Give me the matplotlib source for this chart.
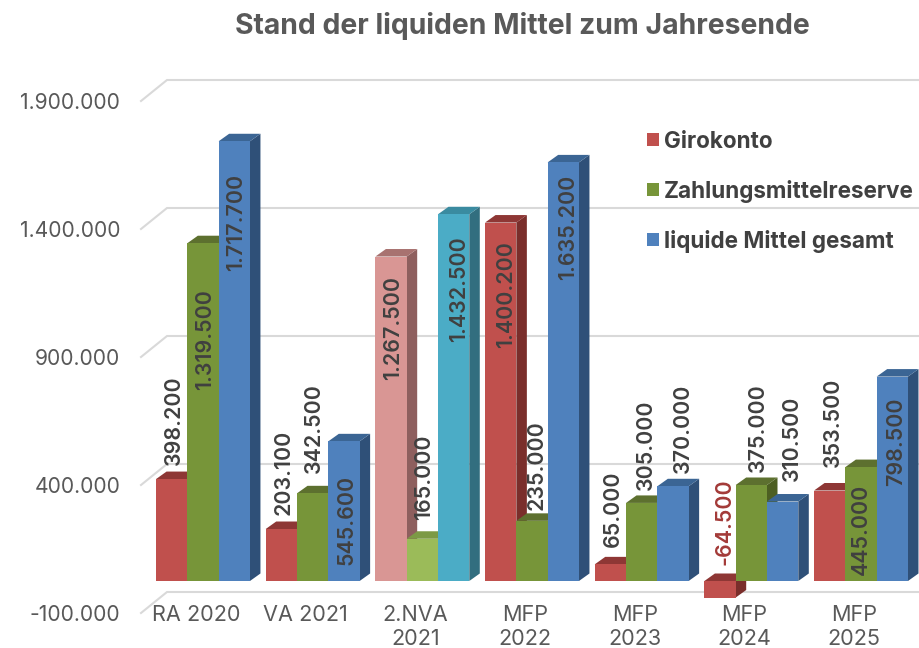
import matplotlib
matplotlib.use("Agg")
import matplotlib.pyplot as plt
from matplotlib.patches import Patch
from matplotlib.transforms import Affine2D

plt.rcParams['font.family'] = ['Inter', 'DejaVu Sans']

categories = ["RA 2020", "VA 2021", "2.NVA\n2021", "MFP\n2022", "MFP\n2023", "MFP\n2024", "MFP\n2025"]
girokonto = [398200, 203100, 1267500, 1400200, 65000, -64500, 353500]
zahlungsmittelreserve = [1319500, 342500, 165000, 235000, 305000, 375000, 445000]
liquide_mittel = [1717700, 545600, 1432500, 1635200, 370000, 310500, 798500]
series_names = ["Girokonto", "Zahlungsmittelreserve", "liquide Mittel gesamt"]
ytick_values = [-100000, 400000, 900000, 1400000, 1900000]
ytick_labels = ["-100.000", "400.000", "900.000", "1.400.000", "1.900.000"]
title = "Stand der liquiden Mittel zum Jahresende"

W, H = 919, 648
AX_L, AX_R, AX_T, AX_B = 141, 919, 101, 613
PX_PER_CAT = 109.67
X0_PX = 196

# colours: front, top, side
RED = ("#C0504D", "#8E3735", "#7A2E2B")
GREEN = ("#779539", "#5D702F", "#4D5F22")
BLUE = ("#4F81BD", "#3B6594", "#2F5078")
PINK = ("#D99694", "#A87270", "#8E5F5E")
LGREEN = ("#9BBB59", "#7C9A45", "#64803A")
TEAL = ("#4BACC6", "#3A8BA0", "#326E7F")
styles = [[RED] * 7, [GREEN] * 7, [BLUE] * 7]
styles[0][2], styles[1][2], styles[2][2] = PINK, LGREEN, TEAL

fig = plt.figure(figsize=(W / 100, H / 100), dpi=100)
ax = fig.add_axes([AX_L / W, 1 - AX_B / H, (AX_R - AX_L) / W, (AX_B - AX_T) / H])
ax.set_xlim((AX_L - X0_PX) / PX_PER_CAT, (AX_R - X0_PX) / PX_PER_CAT)
ax.set_ylim(-100000, 1900000)
ax.patch.set_alpha(0)
for s in ax.spines.values():
    s.set_visible(False)

px_x = 1 / PX_PER_CAT
px_y = 2000000 / (AX_B - AX_T)

# back wall gridlines with the diagonal to the front plane
wall_dx, wall_dy = 26 * px_x, 21 * px_y
x_left = ax.get_xlim()[0]
x_right = ax.get_xlim()[1]
for v in ytick_values:
    ax.plot([x_left, x_left + wall_dx, x_right], [v, v + wall_dy, v + wall_dy],
            color="#D9D9D9", lw=1.5, clip_on=False, zorder=1, solid_joinstyle="miter")

# bars sit in the middle of the floor depth
bar_tf = ax.transData + Affine2D().translate(7, 6.4)
bar_w = 31.3 * px_x
depth_x, depth_y = 10.5 * px_x, 7.5 * px_y

series = [girokonto, zahlungsmittelreserve, liquide_mittel]
z = 2
for i in range(len(categories)):
    for k, vals in enumerate(series):
        v = vals[i]
        front, top_c, side_c = styles[k][i]
        xc = i + (k - 1) * bar_w
        xl, xr = xc - bar_w / 2, xc + bar_w / 2
        hi, lo = max(v, 0), min(v, 0)
        ax.fill([xr, xr + depth_x, xr + depth_x, xr],
                [lo, lo + depth_y, hi + depth_y, hi],
                color=side_c, lw=0, transform=bar_tf, zorder=z, clip_on=False)
        ax.fill([xl, xl + depth_x, xr + depth_x, xr],
                [hi, hi + depth_y, hi + depth_y, hi],
                color=top_c, lw=0, transform=bar_tf, zorder=z, clip_on=False)
        ax.bar(xc, v, width=bar_w, color=front, lw=0, transform=bar_tf, zorder=z + 0.5, clip_on=False)
        z += 1

ax.set_xticks(range(len(categories)), categories)
ax.set_yticks(ytick_values, ytick_labels)
ax.tick_params(axis="y", length=0, pad=15, labelsize=15.2, labelcolor="#595959")
ax.tick_params(axis="x", length=0, pad=-5.5, labelsize=15.6, labelcolor="#595959")
for t in ax.get_xticklabels():
    t.set_linespacing(1.22)

# data labels (pixel centres as laid out in the chart)
label_x = [[174, 205, 236], [284, 314, 346], [393, 424, 459], [506, 537, 568],
           [613, 646, 683], [724, 758, 792], [833, 861, 896]]
label_y = [[420, 340, 222], [472, 428, 520], [328, 477, 289], [295, 465, 227],
           [509, 445, 428], [522, 428, 438], [422, 529, 442]]
for i in range(len(categories)):
    for k, vals in enumerate(series):
        v = vals[i]
        txt = f"{v:,}".replace(",", ".")
        fig.text(label_x[i][k] / W, 1 - label_y[i][k] / H, txt, rotation=90,
                 ha="center", va="center", fontsize=15.4, fontweight=600,
                 color="#A33A38" if v < 0 else "#404040", zorder=50)

handles = [Patch(facecolor=c[0], lw=0) for c in (RED, GREEN, BLUE)]
ax.legend(handles, series_names, loc="upper left", frameon=False,
          bbox_to_anchor=((641 - 141) / (AX_R - AX_L), (AX_B - 124.5) / (AX_B - AX_T)),
          borderaxespad=0, borderpad=0.27, prop={"size": 16.2, "weight": "bold"}, labelcolor="#404040",
          handlelength=0.53, handleheight=0.53, handletextpad=0.22, labelspacing=1.2)

fig.text(522 / W, 1 - 26 / H, title, ha="center", va="center", fontsize=20.4,
         fontweight="bold", color="#595959")

fig.savefig("out.png", dpi=100)
